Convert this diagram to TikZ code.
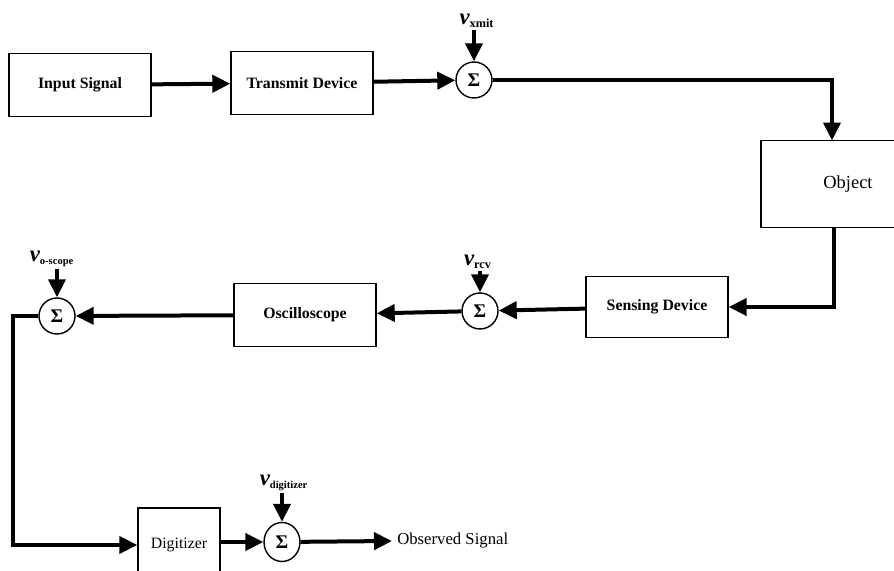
\documentclass[tikz,border=0pt]{standalone}
\usepackage{fontspec}
\setmainfont{Liberation Serif}
\usetikzlibrary{arrows.meta, shapes.geometric}

\begin{document}
\begin{tikzpicture}[
            x=0.02cm, y=-0.02cm,
            block/.style={draw, line width=0.8pt, rectangle, minimum width=2.84cm,
                    minimum height=1.26cm, align=center, font=\fontsize{9}{10}\selectfont\bfseries},
            summer/.style={draw, line width=0.8pt, circle, inner sep=0pt, minimum size=0.72cm,
                    font=\fontsize{11}{12}\selectfont\bfseries},
            noise/.style={inner sep=1pt, font=\fontsize{13}{14}\selectfont\bfseries\itshape},
            sig/.style={-{Triangle[length=0.36cm,width=0.34cm]}, line width=0.08cm},
            wire/.style={line width=0.08cm}
        ]
        \useasboundingbox (0,0) rectangle (894,571);

        % forward path
        \node[block] (in) at (80,85) {Input Signal};
        \node[block] (tx) at (302,83) {Transmit Device};
        \node[summer] (s1) at (474,80) {Σ};
        \node[noise] (nx) at (477,21) {ν\textsubscript{\upshape\fontsize{7}{8}\selectfont xmit}};
        \node[block, minimum width=3.48cm, minimum height=1.74cm,
              font=\fontsize{10.5}{12}\selectfont] (obj) at (848,184) {Object};
        \coordinate (objin) at (832,140.5);
        \coordinate (objout) at (834,227.5);

        % return path
        \node[block, minimum height=1.22cm] (sense) at (657,307) {Sensing Device};
        \node[summer] (s2) at (480,311) {Σ};
        \node[noise] (nr) at (478,262) {ν\textsubscript{\upshape\fontsize{7}{8}\selectfont rcv}};
        \node[block] (osc) at (305,315) {Oscilloscope};
        \node[summer] (s3) at (57,316) {Σ};
        \node[noise] (no) at (52,259) {ν\textsubscript{\upshape\fontsize{6}{7}\selectfont o-scope}};
        \coordinate (c1) at (13,430);

        % digitizer
        \node[block, minimum width=1.64cm, minimum height=1.48cm,
              font=\fontsize{9}{10}\selectfont] (dig) at (179,545) {Digitizer};
        \node[summer, ellipse, minimum width=0.72cm, minimum height=0.78cm] (s4) at (282,542) {Σ};
        \node[noise] (nd) at (284,483) {ν\textsubscript{\upshape\fontsize{6}{7}\selectfont digitizer}};
        \node[anchor=west, inner sep=0pt, font=\fontsize{9.5}{11}\selectfont] (out) at (397,541) {Observed Signal};

        \draw[sig] (in) -- (tx);
        \draw[sig] (tx) -- (s1);
        \draw[sig] (s1.north |- nx.south) -- (s1.north);
        \draw[sig] (s1.east) -| (objin);
        \draw[sig] (objout) |- (sense.east);
        \draw[sig] (sense) -- (s2);
        \draw[sig] (s2.north |- nr.south) -- (s2.north);
        \draw[sig] (s2) -- (osc);
        \draw[sig] (osc) -- (s3);
        \draw[sig] (s3.north |- no.south) -- (s3.north);
        \draw[wire] (s3.west) -| (c1);
        \draw[sig] (c1) |- (dig.west);
        \draw[sig] (dig.east |- s4) -- (s4);
        \draw[sig] (s4.north |- nd.south) -- (s4.north);
        \draw[sig] (s4) -- ([xshift=-0.1cm]out.west);
    \end{tikzpicture}
\end{document}
